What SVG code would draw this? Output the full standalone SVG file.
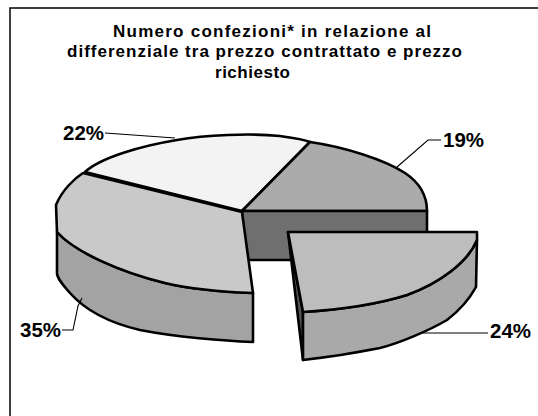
<svg xmlns="http://www.w3.org/2000/svg" width="538" height="416" viewBox="0 0 538 416">
<style>
.frame{fill:none;stroke:#000;stroke-width:1.5}
.title{font-family:"Liberation Sans",Arial,sans-serif;font-weight:bold;font-size:17px;fill:#000;text-anchor:start}
.pct{font-family:"Liberation Sans",Arial,sans-serif;font-weight:bold;font-size:20.5px;fill:#000}
.face{stroke:#000;stroke-width:2.6;stroke-linejoin:round}
.lead{fill:none;stroke:#000;stroke-width:1.1}
</style>
<rect x="0" y="0" width="538" height="416" fill="#fff"/>
<path class="frame" d="M10,416 L10,8 L538,8"/>
<g id="title">
<text class="title" x="113" y="36.5" textLength="318" lengthAdjust="spacing">Numero confezioni* in relazione al</text>
<text class="title" x="67" y="57" textLength="395" lengthAdjust="spacing">differenziale tra prezzo contrattato e prezzo</text>
<text class="title" x="215" y="77.5" textLength="75" lengthAdjust="spacing">richiesto</text>
</g>
<g id="slice22">
<path class="face" fill="#f3f3f3" d="M242,211 L85,172 C100,158 140,146 177,140 C205,135 250,133 280,136 C295,138 303,139 310,142 Z"/>
<text class="pct" x="63" y="140">22%</text>
</g>
<g id="slice19">
<path class="face" fill="#ababab" d="M242,211 L310,142 C345,147 385,160 405,173 C420,183 427,196 427,211 Z"/>
<rect class="face" fill="#6f6f6f" x="242" y="211" width="185" height="49"/>
<text class="pct" x="443" y="147">19%</text>
</g>
<g id="slice35">
<path class="face" fill="#a3a3a3" d="M57,232 C75,252 120,272 165,283 C195,290 225,292 253,293 L253,342 C225,341 175,337 140,330 C110,323 85,310 70,293 C62,284 57,278 57,273 Z"/>
<path class="face" fill="#c9c9c9" d="M242,212 L83,173 C75,178 62,190 56,205 L57,232 C75,252 120,272 165,283 C195,290 225,292 253,293 Z"/>
<text class="pct" x="20" y="337">35%</text>
</g>
<g id="slice24">
<path class="face" fill="#555" d="M288,232 L303,312 L303,360 Z"/>
<path class="face" fill="#a9a9a9" d="M477,240 C468,262 440,283 407,295 C375,305 335,310 303,312 L303,360 C330,357 360,352 380,348 C400,343 430,330 447,320 C460,310 470,298 476,287 Z"/>
<path class="face" fill="#bdbdbd" d="M288,232 L477,232 L477,240 C468,262 440,283 407,295 C375,305 335,310 303,312 Z"/>
<text class="pct" x="490" y="338">24%</text>
</g>
<g id="connectors">
<path class="lead" d="M105,133 L175,138"/>
<path class="lead" d="M441,140 L428,140 L397,167"/>
<path class="lead" d="M423,333 L488,333"/>
<path class="lead" d="M62,330 L73,330 L78,306 L82,298"/>
</g>
</svg>
